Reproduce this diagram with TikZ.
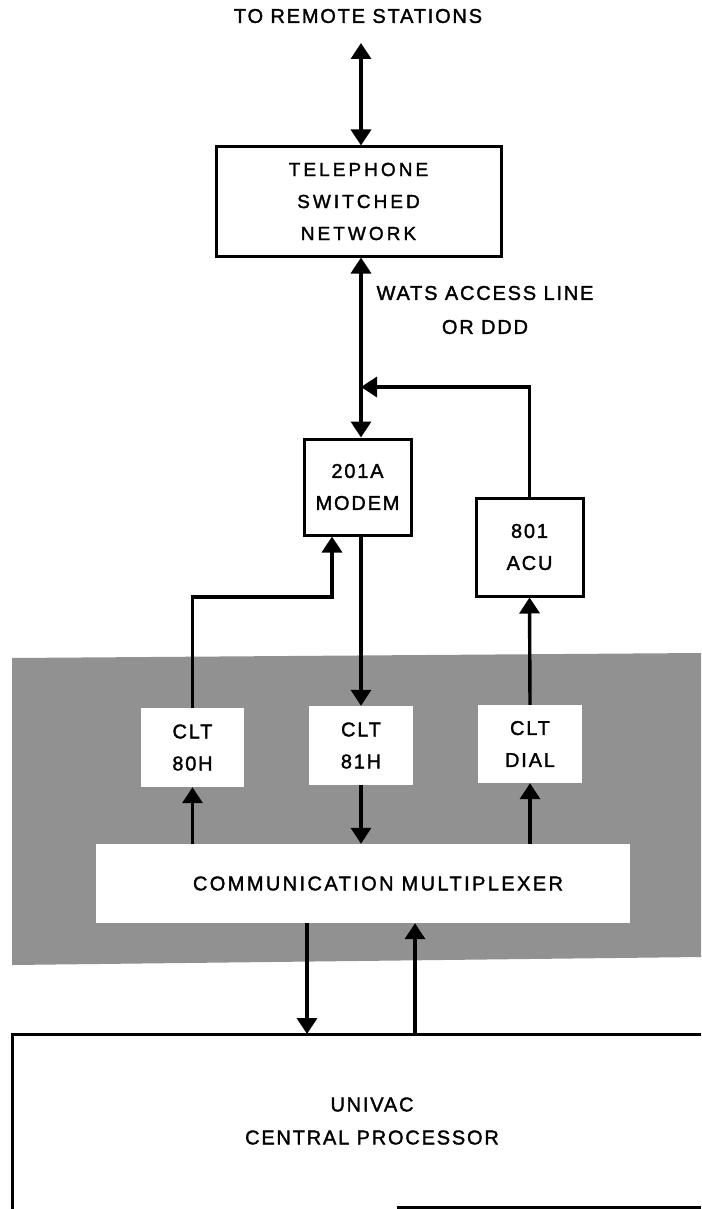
\documentclass[tikz,border=0pt]{standalone}
\usepackage{fontspec}
\setmainfont{Liberation Sans}
\newfontfamily\lab[LetterSpace=9,FakeBold=1.6]{Liberation Sans}
\newfontfamily\labwide[LetterSpace=16,FakeBold=1.6]{Liberation Sans}
\newfontfamily\labmux[LetterSpace=12,FakeBold=1.6]{Liberation Sans}
\usetikzlibrary{arrows.meta}
\definecolor{halftone}{gray}{0.57}
\tikzset{
  x=1pt, y=-1pt,
  txt/.style={font=\lab\fontsize{20}{32}\selectfont, align=center, inner sep=0pt},
  box/.style={draw, line width=3pt, inner sep=0pt, font=\lab\fontsize{20}{32}\selectfont, align=center},
  wbox/.style={fill=white, inner sep=0pt, font=\lab\fontsize{20}{32}\selectfont, align=center},
  conn/.style={line width=3.4pt},
  arr/.style={conn, -{Triangle[width=20pt,length=16pt]}},
  dbl/.style={conn, {Triangle[width=20pt,length=16pt]}-{Triangle[width=20pt,length=16pt]}},
}
\begin{document}
\begin{tikzpicture}
\useasboundingbox (0,0) rectangle (701,1209);
% shaded region
\fill[halftone] (12,658) -- (701,653) -- (701,957) -- (12,965) -- cycle;

% nodes
\node[txt] (remote) at (358,16) {TO REMOTE STATIONS};
\node[box, minimum width=285, minimum height=109, font=\labwide\fontsize{19}{32}\selectfont] (tel) at (358.5,201.5) {TELEPHONE\\SWITCHED\\NETWORK};
\node[txt, font=\lab\fontsize{20}{34}\selectfont] (wats) at (485,310) {WATS ACCESS LINE\\OR DDD};
\node[box, minimum width=107, minimum height=96] (modem) at (357.5,487) {201A\\MODEM};
\node[box, minimum width=107, minimum height=98] (acu) at (529.5,547) {801\\ACU};
\node[wbox, minimum width=103, minimum height=79] (c80) at (192.5,747.5) {CLT\\80H};
\node[wbox, minimum width=104, minimum height=79] (c81) at (361,745.5) {CLT\\81H};
\node[wbox, minimum width=104, minimum height=78] (cdial) at (530,744) {CLT\\DIAL};
\node[wbox, minimum width=534, minimum height=79, font=\labmux\fontsize{20}{32}\selectfont] (mux) at (363,883.5) {\hspace*{30pt}COMMUNICATION MULTIPLEXER};
\node[txt, font=\lab\fontsize{20}{33}\selectfont] (cpu) at (372,1121) {UNIVAC\\CENTRAL PROCESSOR};

% processor outline (cut off by the page edges)
\draw[line width=3pt] (701,1034) -- (12,1034) -- (12,1209);
\draw[line width=3pt] (397,1207.5) -- (701,1207.5);

% coordinates
\coordinate (remtip) at (361,43);
\coordinate (join) at (361,387);
\coordinate (bend) at (332,597);
\coordinate (cpuin) at (307,1034);
\coordinate (cpuout) at (415,1034);

% connectors
\draw[dbl] (remtip) -- (tel.north -| remtip);
\draw[dbl] (tel.south -| remtip) -- (modem.north -| remtip);
\draw[arr] (acu.north) |- (join);
\draw[arr] (c80.north) |- (bend) -- (modem.south -| bend);
\draw[arr] (modem.south -| c81.north) -- (c81.north);
\draw[arr] (cdial.north) -- (acu.south);
\draw[arr] (mux.north -| c80.north) -- (c80.south);
\draw[arr] (c81.south) -- (mux.north -| c81.south);
\draw[arr] (mux.north -| cdial.north) -- (cdial.south);
\draw[arr] (mux.south -| cpuin) -- (cpuin);
\draw[arr] (cpuout) -- (mux.south -| cpuout);
\end{tikzpicture}
\end{document}
